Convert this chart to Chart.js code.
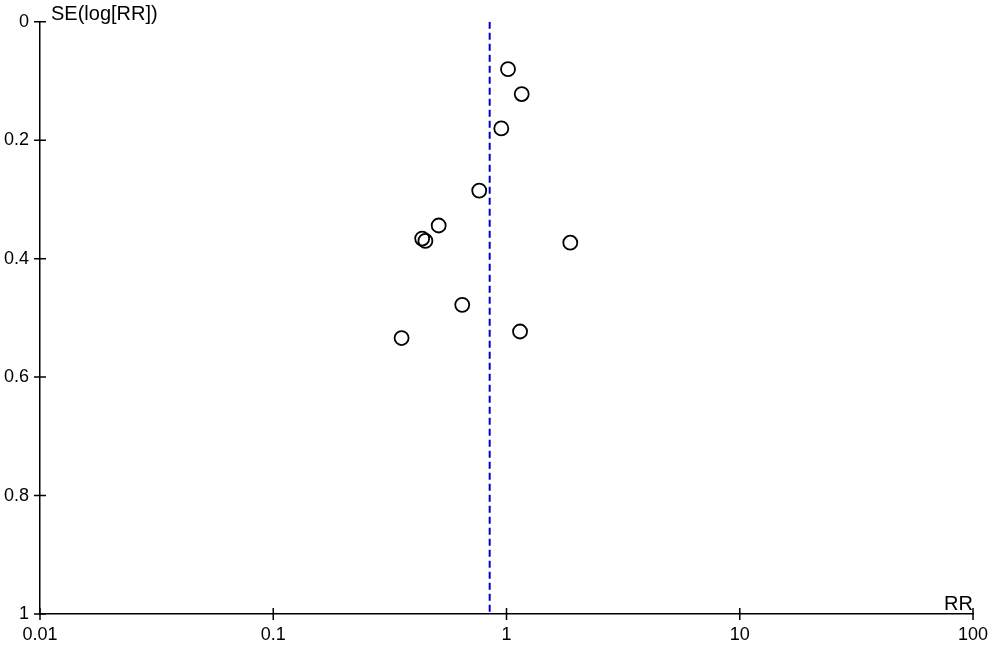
<!DOCTYPE html>
<html>
<head>
    <title>Funnel plot</title>
    <script src="https://cdn.jsdelivr.net/npm/chart.js"></script>
    <style>
        body { margin: 0; background: #fff; }
        #wrap { width: 992px; height: 646px; position: relative; }
    </style>
</head>
<body>
    <div id="wrap">
        <canvas id="chart"></canvas>
    </div>

    <script>
        // Valeurs (RR en abscisse log, SE(log[RR]) en ordonnée)
        const studyRR = [1.015, 1.162, 0.950, 0.764, 0.512, 0.435, 0.449, 1.877, 0.646, 1.143, 0.355];
        const studySE = [0.080, 0.122, 0.180, 0.285, 0.344, 0.366, 0.370, 0.373, 0.478, 0.523, 0.534];
        const pooledRR = 0.847;
        const xTicks = [0.01, 0.1, 1, 10, 100];
        const yTicks = [0, 0.2, 0.4, 0.6, 0.8, 1];

        const FONT = { family: '"Liberation Sans", Arial, sans-serif', size: 18 };
        const TITLE_SIZE = 20;

        const points = studyRR.map((rr, i) => ({ x: rr, y: studySE[i] }));
        const pooledLine = [{ x: pooledRR, y: 0 }, { x: pooledRR, y: 1 }];

        // ticks qui traversent les axes + titres des axes
        const axisExtras = {
            id: 'axisExtras',
            afterDraw(chart) {
                const ctx = chart.ctx;
                const area = chart.chartArea;
                const xs = chart.scales.x;
                const ys = chart.scales.y;
                ctx.save();
                ctx.strokeStyle = '#000';
                ctx.lineWidth = 1.5;
                ctx.beginPath();
                xTicks.forEach(v => {
                    const px = xs.getPixelForValue(v);
                    ctx.moveTo(px, area.bottom - 6);
                    ctx.lineTo(px, area.bottom + 6);
                });
                yTicks.forEach(v => {
                    const py = ys.getPixelForValue(v);
                    ctx.moveTo(area.left - 6, py);
                    ctx.lineTo(area.left + 6, py);
                });
                ctx.stroke();

                ctx.fillStyle = '#000';
                ctx.font = TITLE_SIZE + 'px ' + FONT.family;
                ctx.textBaseline = 'alphabetic';
                ctx.textAlign = 'left';
                ctx.fillText('SE(log[RR])', area.left + 11, area.top - 2);
                ctx.textAlign = 'right';
                ctx.fillText('RR', area.right, area.bottom - 4);
                ctx.restore();
            }
        };

        const ctx = document.getElementById('chart').getContext('2d');
        const chart = new Chart(ctx, {
            type: 'scatter',
            data: {
                datasets: [
                    {
                        label: 'Études',
                        data: points,
                        pointStyle: 'circle',
                        pointRadius: 7,
                        pointHoverRadius: 7,
                        borderColor: '#000',
                        backgroundColor: 'rgba(0,0,0,0)',
                        borderWidth: 1.8
                    },
                    {
                        label: 'RR combiné',
                        type: 'line',
                        data: pooledLine,
                        borderColor: '#0000cc',
                        borderWidth: 2,
                        borderDash: [7, 4],
                        pointRadius: 0,
                        fill: false
                    }
                ]
            },
            options: {
                responsive: true,
                maintainAspectRatio: false,
                animation: false,
                layout: { padding: { top: 20, right: 19, left: 0, bottom: 0 } },
                plugins: {
                    legend: { display: false },
                    tooltip: { enabled: false }
                },
                scales: {
                    x: {
                        type: 'logarithmic',
                        min: 0.01,
                        max: 100,
                        afterBuildTicks: scale => { scale.ticks = xTicks.map(v => ({ value: v })); },
                        afterFit: scale => {
                            scale.height = 32;
                            scale.paddingRight = 0;
                            scale.paddingLeft = 0;
                        },
                        grid: { display: true, drawOnChartArea: false, drawTicks: false },
                        border: { display: true, color: '#000', width: 1.5 },
                        ticks: {
                            color: '#000',
                            font: FONT,
                            padding: 10,
                            maxRotation: 0,
                            autoSkip: false,
                            callback: v => String(v)
                        }
                    },
                    y: {
                        type: 'linear',
                        min: 0,
                        max: 1,
                        reverse: true,
                        afterBuildTicks: scale => { scale.ticks = yTicks.map(v => ({ value: v })); },
                        afterFit: scale => { scale.width = 40; },
                        grid: { display: true, drawOnChartArea: false, drawTicks: false },
                        border: { display: true, color: '#000', width: 1.5 },
                        ticks: {
                            color: '#000',
                            font: FONT,
                            padding: 11,
                            autoSkip: false,
                            callback: v => String(v)
                        }
                    }
                }
            },
            plugins: [axisExtras]
        });
    </script>
</body>
</html>
